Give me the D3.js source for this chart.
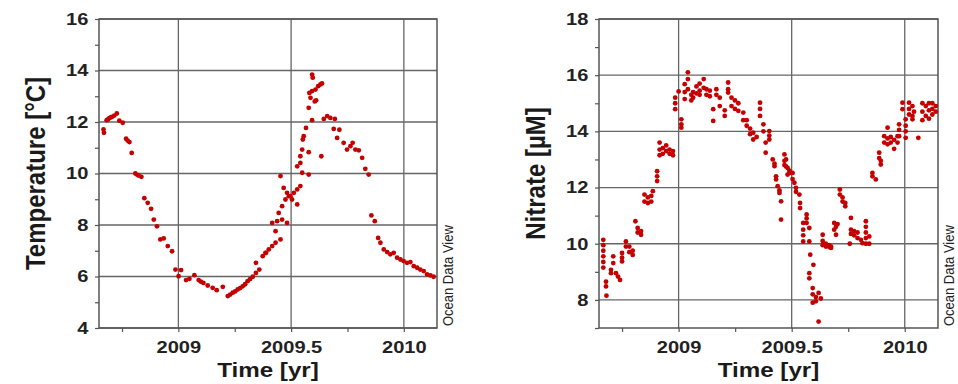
<!DOCTYPE html>
<html>
<head>
<meta charset="utf-8">
<script src="https://cdn.jsdelivr.net/npm/d3@7"></script>
<style>
  body { margin: 0; background: #fff; }
  svg { display: block; }
  text { font-family: "Liberation Sans", Arial, sans-serif; }
</style>
</head>
<body>
<svg id="chart" width="958" height="384"></svg>
<script>
// x axis (decimal year), shared by both panels
const yearDomain = [2008.648, 2010.147];
const yearTicks = [2009, 2009.5, 2010];
const yearMinor = [2008.75, 2009.25, 2009.75];

const tempDomain = [4, 16];
const tempTicks = [4, 6, 8, 10, 12, 14, 16];
const tempMinor = [5, 7, 9, 11, 13, 15];

const nitrateDomain = [7, 18];
const nitrateTicks = [8, 10, 12, 14, 16, 18];
const nitrateMinor = [7, 9, 11, 13, 15, 17];

// [year, temperature °C]
const temperature = [
  [2008.668, 11.71], [2008.670, 11.58], [2008.682, 12.07], [2008.688, 12.1], [2008.694, 12.15],
  [2008.700, 12.18], [2008.706, 12.2], [2008.716, 12.25], [2008.727, 12.33], [2008.738, 12.05],
  [2008.753, 11.97], [2008.768, 11.35], [2008.775, 11.28], [2008.783, 11.22], [2008.793, 10.8],
  [2008.809, 10.0], [2008.818, 9.95], [2008.824, 9.92], [2008.836, 9.87], [2008.849, 9.04],
  [2008.864, 8.86], [2008.879, 8.63], [2008.891, 8.21], [2008.905, 7.95], [2008.920, 7.44],
  [2008.935, 7.48], [2008.953, 7.18], [2008.972, 6.98], [2008.987, 6.27], [2009.001, 6.01],
  [2009.012, 6.25], [2009.034, 5.86], [2009.049, 5.91], [2009.071, 6.05], [2009.090, 5.86],
  [2009.100, 5.8], [2009.111, 5.75], [2009.130, 5.65], [2009.152, 5.56], [2009.170, 5.47],
  [2009.197, 5.6], [2009.219, 5.24], [2009.230, 5.3], [2009.241, 5.37], [2009.252, 5.42],
  [2009.263, 5.5], [2009.274, 5.55], [2009.285, 5.62], [2009.296, 5.7], [2009.307, 5.82],
  [2009.318, 5.9], [2009.330, 5.99], [2009.344, 6.14], [2009.344, 6.53], [2009.359, 6.27],
  [2009.374, 6.79], [2009.389, 6.92], [2009.386, 6.92], [2009.401, 7.05], [2009.416, 7.18],
  [2009.431, 7.31], [2009.453, 7.44], [2009.416, 8.08], [2009.438, 8.15], [2009.460, 8.21],
  [2009.482, 8.08], [2009.431, 7.76], [2009.445, 8.47], [2009.460, 8.73], [2009.475, 8.99],
  [2009.490, 9.12], [2009.512, 9.25], [2009.527, 9.38], [2009.541, 9.51], [2009.453, 9.9],
  [2009.467, 9.44], [2009.482, 9.25], [2009.497, 9.12], [2009.504, 8.99], [2009.527, 8.8],
  [2009.527, 10.28], [2009.541, 10.41], [2009.549, 10.03], [2009.578, 9.96], [2009.541, 10.67],
  [2009.549, 10.93], [2009.552, 11.32], [2009.556, 11.45], [2009.566, 11.77], [2009.578, 10.83],
  [2009.593, 12.07], [2009.634, 10.67], [2009.578, 12.55], [2009.586, 12.94], [2009.581, 13.13],
  [2009.593, 13.2], [2009.608, 13.26], [2009.620, 13.39], [2009.630, 13.46], [2009.637, 13.5],
  [2009.593, 13.84], [2009.596, 13.72], [2009.605, 12.8], [2009.611, 12.84], [2009.645, 12.12],
  [2009.660, 12.23], [2009.674, 12.16], [2009.694, 12.12], [2009.689, 11.73], [2009.714, 11.7],
  [2009.704, 11.38], [2009.733, 11.19], [2009.748, 10.93], [2009.763, 11.06], [2009.773, 11.19],
  [2009.785, 10.93], [2009.800, 10.9], [2009.815, 10.61], [2009.829, 10.18], [2009.844, 9.96],
  [2009.856, 8.37], [2009.871, 8.15], [2009.886, 7.5], [2009.896, 7.31], [2009.911, 7.05],
  [2009.926, 6.95], [2009.940, 6.86], [2009.955, 6.92], [2009.970, 6.73], [2009.985, 6.66],
  [2009.999, 6.6], [2010.014, 6.53], [2010.029, 6.56], [2010.044, 6.4], [2010.059, 6.34],
  [2010.073, 6.27], [2010.088, 6.21], [2010.103, 6.08], [2010.118, 6.04], [2010.132, 5.99]
];

// [year, nitrate µM]
const nitrate = [
  [2008.667, 10.14], [2008.667, 9.95], [2008.667, 9.75], [2008.667, 9.55], [2008.667, 9.35], [2008.667, 9.15],
  [2008.679, 8.65], [2008.679, 8.48], [2008.681, 8.15], [2008.701, 9.07], [2008.701, 8.95],
  [2008.711, 9.55], [2008.711, 9.31], [2008.723, 8.95], [2008.732, 8.83], [2008.741, 8.71],
  [2008.750, 9.67], [2008.750, 9.5], [2008.750, 9.37], [2008.767, 10.08], [2008.767, 9.9],
  [2008.782, 9.9], [2008.782, 9.7], [2008.797, 9.75], [2008.797, 9.6], [2008.809, 10.8],
  [2008.819, 10.56], [2008.819, 10.4], [2008.834, 10.45], [2008.834, 10.32],
  [2008.849, 11.75], [2008.849, 11.5], [2008.864, 11.65], [2008.864, 11.45], [2008.879, 11.7],
  [2008.879, 11.5], [2008.886, 11.87], [2008.905, 12.58], [2008.905, 12.4], [2008.905, 12.23],
  [2008.916, 13.6], [2008.916, 13.35], [2008.916, 13.15], [2008.930, 13.4], [2008.930, 13.2],
  [2008.945, 13.5], [2008.945, 13.3], [2008.960, 13.35], [2008.960, 13.2], [2008.975, 13.3],
  [2008.975, 13.15], [2008.985, 15.2], [2008.985, 15.0], [2008.985, 14.79], [2009.000, 15.42],
  [2009.012, 14.43], [2009.012, 14.25], [2009.012, 14.13], [2009.027, 15.68], [2009.027, 15.4],
  [2009.027, 15.15], [2009.041, 16.1], [2009.041, 15.86], [2009.041, 15.5], [2009.056, 15.3],
  [2009.056, 15.1], [2009.064, 15.4], [2009.064, 15.2], [2009.079, 15.6], [2009.079, 15.35],
  [2009.093, 15.7], [2009.093, 15.45], [2009.093, 15.3], [2009.111, 15.86], [2009.111, 15.55],
  [2009.123, 15.5], [2009.123, 15.3], [2009.138, 15.45], [2009.138, 15.25], [2009.153, 14.79],
  [2009.153, 14.37], [2009.167, 15.5], [2009.167, 15.3], [2009.182, 15.2], [2009.182, 14.9],
  [2009.204, 14.75], [2009.204, 14.55], [2009.219, 15.74], [2009.219, 15.5], [2009.219, 15.38],
  [2009.234, 15.2], [2009.234, 14.9], [2009.249, 15.1], [2009.249, 14.8], [2009.264, 15.0],
  [2009.264, 14.73], [2009.286, 14.67], [2009.286, 14.4], [2009.301, 14.4], [2009.301, 14.2],
  [2009.316, 14.1], [2009.316, 13.9], [2009.330, 13.95], [2009.330, 13.71], [2009.345, 13.8],
  [2009.360, 15.02], [2009.360, 14.8], [2009.360, 14.55], [2009.375, 14.25], [2009.375, 14.0],
  [2009.385, 13.6], [2009.385, 13.24], [2009.401, 14.01], [2009.401, 13.85], [2009.401, 13.71],
  [2009.416, 13.0], [2009.424, 12.85], [2009.424, 12.76], [2009.431, 12.4], [2009.431, 12.29],
  [2009.438, 12.05], [2009.446, 11.9], [2009.446, 11.81], [2009.453, 11.51], [2009.453, 10.86],
  [2009.468, 13.18], [2009.468, 12.95], [2009.468, 12.8], [2009.475, 13.0], [2009.475, 12.75],
  [2009.482, 12.46], [2009.482, 12.7], [2009.490, 12.6], [2009.490, 12.52], [2009.504, 12.52],
  [2009.504, 12.3], [2009.512, 12.17], [2009.519, 11.99], [2009.519, 11.85], [2009.534, 11.75],
  [2009.537, 11.45], [2009.537, 11.27], [2009.551, 10.74], [2009.551, 10.5], [2009.551, 10.3],
  [2009.551, 10.08], [2009.566, 11.04], [2009.566, 10.9], [2009.566, 10.74], [2009.578, 10.56],
  [2009.578, 10.08], [2009.578, 8.95], [2009.578, 8.77], [2009.582, 9.61], [2009.596, 9.25],
  [2009.593, 8.42], [2009.593, 8.2], [2009.593, 7.9], [2009.607, 8.1], [2009.607, 7.95],
  [2009.619, 8.25], [2009.619, 7.23], [2009.629, 8.05], [2009.637, 10.32], [2009.637, 10.1],
  [2009.637, 9.95], [2009.651, 10.0], [2009.651, 9.9], [2009.666, 9.95], [2009.666, 9.88],
  [2009.674, 9.9], [2009.674, 9.85], [2009.688, 10.74], [2009.688, 10.5], [2009.696, 10.6],
  [2009.696, 10.32], [2009.703, 10.7], [2009.713, 11.93], [2009.713, 11.75], [2009.725, 11.65],
  [2009.725, 11.5], [2009.737, 11.45], [2009.737, 11.33], [2009.757, 10.0], [2009.762, 10.92],
  [2009.762, 10.5], [2009.762, 10.35], [2009.776, 10.45], [2009.776, 10.3], [2009.791, 10.4],
  [2009.791, 10.2], [2009.806, 10.14], [2009.813, 10.02], [2009.828, 10.8], [2009.828, 10.6],
  [2009.828, 10.4], [2009.828, 10.2], [2009.828, 10.0], [2009.843, 10.26], [2009.843, 10.0],
  [2009.857, 12.52], [2009.857, 12.4], [2009.872, 12.29], [2009.887, 13.24], [2009.887, 13.05],
  [2009.894, 12.95], [2009.894, 12.82], [2009.909, 13.83], [2009.909, 13.6], [2009.924, 14.13],
  [2009.924, 13.75], [2009.924, 13.54], [2009.938, 13.8], [2009.938, 13.6], [2009.953, 13.7],
  [2009.953, 13.38], [2009.968, 13.83], [2009.968, 13.6], [2009.975, 14.25], [2009.975, 14.05],
  [2009.975, 13.83], [2009.990, 15.02], [2009.990, 14.79], [2010.004, 14.43], [2010.004, 14.2],
  [2010.004, 14.0], [2010.004, 13.77], [2010.019, 15.02], [2010.019, 14.8], [2010.019, 14.6],
  [2010.034, 14.9], [2010.034, 14.55], [2010.034, 14.43], [2010.041, 14.7], [2010.060, 13.77],
  [2010.078, 15.0], [2010.078, 14.7], [2010.078, 14.4], [2010.093, 14.9], [2010.093, 14.55],
  [2010.107, 15.0], [2010.107, 14.75], [2010.107, 14.45], [2010.122, 15.0], [2010.122, 14.8],
  [2010.122, 14.6], [2010.137, 14.9], [2010.137, 14.7]
];

const svg = d3.select("#chart");
const stretch = 1.18; // the reference has slightly wide lettering

function drawPanel(p) {
  const x = d3.scaleLinear().domain(yearDomain).range([p.left, p.right]);
  const y = d3.scaleLinear().domain(p.domain).range([p.bottom, p.top]);
  const g = svg.append("g");

  // grid
  g.selectAll(".hgrid").data(p.ticks).enter().append("line")
    .attr("x1", p.left).attr("x2", p.right)
    .attr("y1", d => y(d)).attr("y2", d => y(d))
    .attr("stroke", "#666").attr("stroke-width", 1.3);
  g.selectAll(".vgrid").data(yearTicks).enter().append("line")
    .attr("y1", p.top).attr("y2", p.bottom)
    .attr("x1", d => x(d)).attr("x2", d => x(d))
    .attr("stroke", "#666").attr("stroke-width", 1.3);

  // frame
  g.append("rect")
    .attr("x", p.left).attr("y", p.top)
    .attr("width", p.right - p.left).attr("height", p.bottom - p.top)
    .attr("fill", "none").attr("stroke", "#555").attr("stroke-width", 1.5);

  // points
  g.selectAll(".dot").data(p.data).enter().append("circle")
    .attr("cx", d => x(d[0])).attr("cy", d => y(d[1]))
    .attr("r", 2.4).attr("fill", "#c40000");

  // axes
  const xAxis = g.append("g").attr("transform", `translate(0,${p.bottom})`)
    .call(d3.axisBottom(x).tickValues(yearTicks).tickSize(4).tickPadding(9).tickFormat(d => String(d)));
  g.append("g").attr("transform", `translate(0,${p.bottom})`)
    .call(d3.axisBottom(x).tickValues(yearMinor).tickSize(4).tickFormat(""));
  const yAxis = g.append("g").attr("transform", `translate(${p.left},0)`)
    .call(d3.axisLeft(y).tickValues(p.ticks).tickSize(4).tickPadding(5).tickFormat(d3.format("d")));
  g.append("g").attr("transform", `translate(${p.left},0)`)
    .call(d3.axisLeft(y).tickValues(p.minor).tickSize(4).tickFormat(""));

  g.selectAll(".domain").remove();
  g.selectAll(".tick line").attr("stroke", "#555").attr("stroke-width", 1.2);
  xAxis.selectAll("text").attr("font-size", 17).attr("font-weight", "bold")
    .attr("fill", "#222").attr("transform", `scale(${stretch},1)`);
  yAxis.selectAll("text").attr("font-size", 17).attr("font-weight", "bold")
    .attr("fill", "#222").attr("transform", `scale(${stretch},1)`);

  // titles
  const cx = (p.left + p.right) / 2;
  g.append("text")
    .attr("transform", `translate(${cx},377) scale(${stretch},1)`)
    .attr("text-anchor", "middle").attr("font-size", 20.5).attr("font-weight", "bold")
    .attr("fill", "#1a1a1a").text("Time [yr]");
  g.append("text")
    .attr("transform", `translate(${p.titleX},${(p.top + p.bottom) / 2}) scale(${stretch},1) rotate(-90)`)
    .attr("text-anchor", "middle").attr("font-size", 24).attr("font-weight", "bold")
    .attr("fill", "#1a1a1a").text(p.title);
  g.append("text")
    .attr("transform", `translate(${p.right + 16},${p.bottom - 2}) scale(${stretch},1) rotate(-90)`)
    .attr("text-anchor", "start").attr("font-size", 13)
    .attr("fill", "#222").text("Ocean Data View");
}

drawPanel({
  left: 99, right: 437, top: 19, bottom: 328,
  domain: tempDomain, ticks: tempTicks, minor: tempMinor,
  data: temperature, title: "Temperature [°C]", titleX: 45
});

drawPanel({
  left: 599, right: 938, top: 19, bottom: 328,
  domain: nitrateDomain, ticks: nitrateTicks, minor: nitrateMinor,
  data: nitrate, title: "Nitrate [µM]", titleX: 545
});
</script>
</body>
</html>
